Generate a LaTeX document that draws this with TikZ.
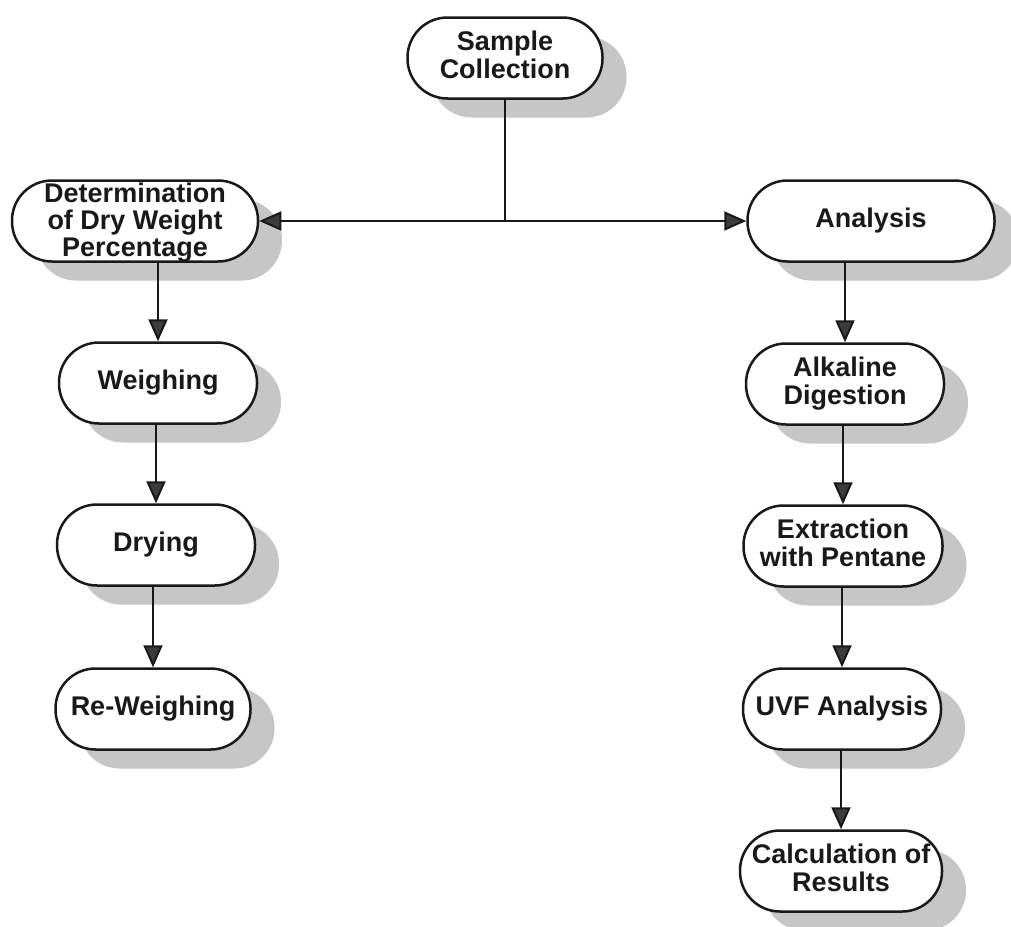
\documentclass[tikz,border=0pt]{standalone}
\usepackage{fontspec}
\setmainfont{Liberation Sans}
\usetikzlibrary{arrows.meta,shadows}
\definecolor{shadowgray}{RGB}{198,198,198}
\definecolor{ink}{RGB}{25,25,25}
\definecolor{tipfill}{RGB}{60,60,60}
\newcommand\boxtext[2][0pt]{\raisebox{\dimexpr-0.27em-#1\relax}[0pt][0pt]{\renewcommand\arraystretch{1}\begin{tabular}{@{}c@{}}#2\end{tabular}}}
\tikzset{
  stepbox/.style={draw=ink, line width=2.5pt, fill=white, rounded corners=40pt,
    inner sep=0pt, minimum height=81pt, text=ink,
    font=\bfseries\fontsize{27}{28}\selectfont,
    general shadow={fill=shadowgray, shadow xshift=24pt, shadow yshift=-19pt}},
  arr/.style={draw=ink, line width=2pt, -{Triangle[length=22pt,width=19pt,fill=tipfill]}},
  conn/.style={draw=ink, line width=2pt}
}
\begin{document}
\begin{tikzpicture}[x=1pt,y=-1pt]
\useasboundingbox[fill=white] (0,0) rectangle (1011,926);
\node[stepbox, minimum width=195pt] (sc) at (505,58) {\boxtext{Sample\\Collection}};
\node[stepbox, minimum width=246pt, font=\bfseries\fontsize{27}{26.5}\selectfont] (det) at (135,221) {\boxtext[1.5pt]{Determination\\of Dry Weight\\Percentage}};
\node[stepbox, minimum width=247pt] (ana) at (871,221) {\boxtext{Analysis}};
\node[stepbox, minimum width=198pt] (wei) at (158,383) {\boxtext{Weighing}};
\node[stepbox, minimum width=198pt] (dry) at (156,545) {\boxtext{Drying}};
\node[stepbox, minimum width=195pt] (rew) at (153,709) {\boxtext{Re-Weighing}};
\node[stepbox, minimum width=198pt] (alk) at (845,384) {\boxtext{Alkaline\\Digestion}};
\node[stepbox, minimum width=199pt] (ext) at (843,546) {\boxtext{Extraction\\with Pentane}};
\node[stepbox, minimum width=198pt] (uvf) at (842,709) {\boxtext{UVF Analysis}};
\node[stepbox, minimum width=202pt] (calc) at (841,871) {\boxtext{Calculation of\\Results}};
\coordinate (j) at (sc.south |- det.east);
\draw[conn] (sc.south) -- (j);
\draw[arr] (j) -- (det.east);
\draw[arr] (j) -- (ana.west);
\draw[arr] (wei.north |- det.south) -- (wei.north);
\draw[arr] (wei.south -| dry.north) -- (dry.north);
\draw[arr] (dry.south -| rew.north) -- (rew.north);
\draw[arr] (ana.south -| alk.north) -- (alk.north);
\draw[arr] (alk.south -| ext.north) -- (ext.north);
\draw[arr] (ext.south -| uvf.north) -- (uvf.north);
\draw[arr] (uvf.south -| calc.north) -- (calc.north);
\end{tikzpicture}
\end{document}
